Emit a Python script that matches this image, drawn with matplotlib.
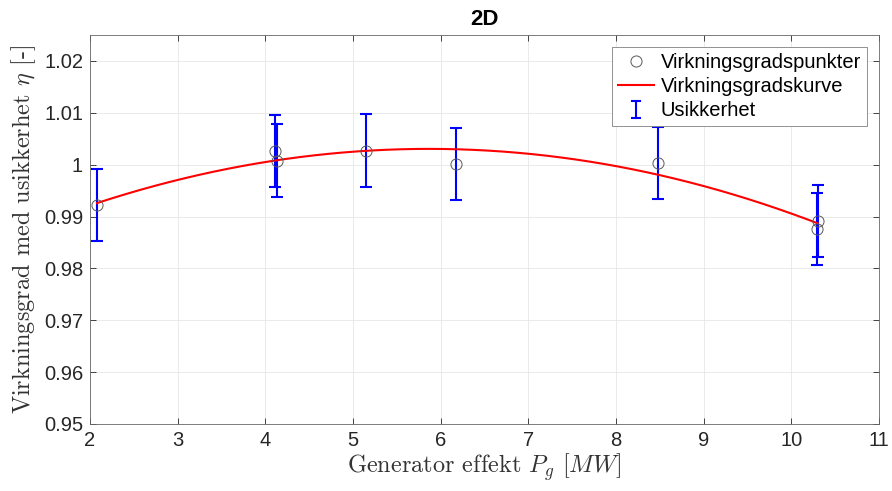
import matplotlib.pyplot as plt
import numpy as np
from matplotlib.container import ErrorbarContainer
from matplotlib.legend_handler import HandlerBase
from matplotlib.lines import Line2D

# measured points (generator power [MW], efficiency [-])
p_gen = [2.08, 4.11, 4.13, 5.15, 6.17, 8.48, 10.29, 10.30]
eta = [0.9922, 1.0026, 1.0008, 1.0027, 1.0001, 1.0003, 0.9876, 0.9891]
eta_err = [0.007, 0.007, 0.007, 0.007, 0.007, 0.007, 0.007, 0.007]

y_ticks = [0.95, 0.96, 0.97, 0.98, 0.99, 1.00, 1.01, 1.02]
y_tick_labels = ["0.95", "0.96", "0.97", "0.98", "0.99", "1", "1.01", "1.02"]


class HandlerI(HandlerBase):
    # MATLAB-style legend symbol for error bars: just a vertical "I"
    def create_artists(self, legend, orig_handle, xdescent, ydescent,
                       width, height, fontsize, trans):
        cx = width / 2 - xdescent
        y0, y1 = -ydescent - 1, height - ydescent + 1
        segs = [([cx, cx], [y0, y1]), ([cx - 3, cx + 3], [y0, y0]),
                ([cx - 3, cx + 3], [y1, y1])]
        arts = []
        for xs_, ys_ in segs:
            ln = Line2D(xs_, ys_, color="blue", lw=1.5)
            ln.set_transform(trans)
            arts.append(ln)
        return arts


plt.rcParams.update({"font.family": "Liberation Sans", "mathtext.fontset": "cm",
                     "axes.linewidth": 0.6})

fig = plt.figure(figsize=(8.92, 4.91), dpi=100)
ax = fig.add_axes([0.1009, 0.1365, 0.8845, 0.7922])

# quadratic efficiency curve fitted through the points
coef = np.polyfit(p_gen, eta, 2)
xs = np.linspace(min(p_gen), max(p_gen), 200)

ax.plot(p_gen, eta, "o", mfc="none", mec="0.35", ms=8, mew=0.7,
        label="Virkningsgradspunkter", zorder=4)
ax.plot(xs, np.polyval(coef, xs), color="red", lw=1.5,
        label="Virkningsgradskurve", zorder=3)
ax.errorbar(p_gen, eta, yerr=eta_err, fmt="none", ecolor="blue",
            elinewidth=1.5, capsize=4, capthick=1.5, label="Usikkerhet", zorder=2)

ax.set_xlim(2, 11)
ax.set_ylim(0.95, 1.025)
ax.set_xticks(range(2, 12))
ax.set_yticks(y_ticks)
ax.set_yticklabels(y_tick_labels)
ax.tick_params(labelsize=14.5, colors="0.15", direction="in", length=4, width=0.6,
               top=True, right=True, pad=5)
ax.grid(True, color="0.9", lw=0.6)
ax.set_axisbelow(True)
for s in ax.spines.values():
    s.set_color("0.4")

ax.set_title("2D", fontsize=16, fontweight="bold", pad=7)
ax.set_xlabel(r"Generator effekt $P_g$ $[MW]$", family="cmr10",
              fontsize=17.5, color="0.2", labelpad=1)
ax.set_ylabel(r"Virkningsgrad med usikkerhet $\eta$ [-]", family="cmr10",
              fontsize=17.5, color="0.2", labelpad=4)

leg = ax.legend(loc="upper right", fontsize=14.5, fancybox=False, framealpha=1,
                edgecolor="0.5", borderpad=0.3, labelspacing=0.25,
                handlelength=1.8, handletextpad=0.3, borderaxespad=0.6,
                handler_map={ErrorbarContainer: HandlerI()})
leg.get_frame().set_linewidth(0.6)

fig.savefig("out.png", dpi=100)
